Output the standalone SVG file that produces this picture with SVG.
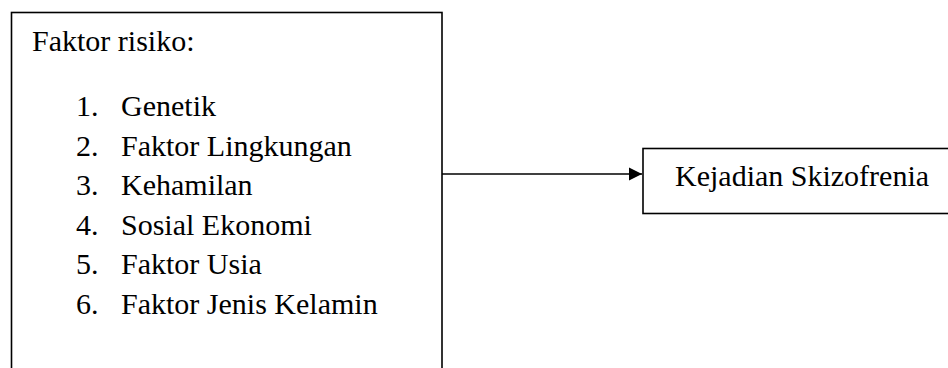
<svg xmlns="http://www.w3.org/2000/svg" width="948" height="368" viewBox="0 0 948 368">
<style>
.box{fill:#fff;stroke:#000;stroke-width:1.6}
.t{font-family:"Liberation Serif","Times New Roman",serif;font-size:30px;fill:#000}
.ln{stroke:#000;stroke-width:1.6;fill:none}
</style>
<defs>
<marker id="ah" markerUnits="userSpaceOnUse" markerWidth="13" markerHeight="14" refX="13" refY="7" orient="auto">
<path d="M0,0.5 L13,7 L0,13.5 Z" fill="#000"/>
</marker>
</defs>
<rect width="948" height="368" fill="#fff"/>
<g id="faktor-risiko">
<rect class="box" x="11.5" y="12.5" width="430.5" height="380"/>
<text class="t" x="32" y="51">Faktor risiko:</text>
<text class="t" x="76" y="116">1.</text><text class="t" x="121" y="116">Genetik</text>
<text class="t" x="76" y="155.5">2.</text><text class="t" x="121" y="155.5">Faktor Lingkungan</text>
<text class="t" x="76" y="195">3.</text><text class="t" x="121" y="195">Kehamilan</text>
<text class="t" x="76" y="234.5">4.</text><text class="t" x="121" y="234.5">Sosial Ekonomi</text>
<text class="t" x="76" y="274">5.</text><text class="t" x="121" y="274">Faktor Usia</text>
<text class="t" x="76" y="313.5">6.</text><text class="t" x="121" y="313.5">Faktor Jenis Kelamin</text>
</g>
<g id="kejadian-skizofrenia">
<rect class="box" x="643" y="148.5" width="320" height="65"/>
<text class="t" x="675" y="186">Kejadian Skizofrenia</text>
</g>
<g id="connectors">
<line class="ln" x1="442" y1="174" x2="642" y2="174" marker-end="url(#ah)"/>
</g>
</svg>
